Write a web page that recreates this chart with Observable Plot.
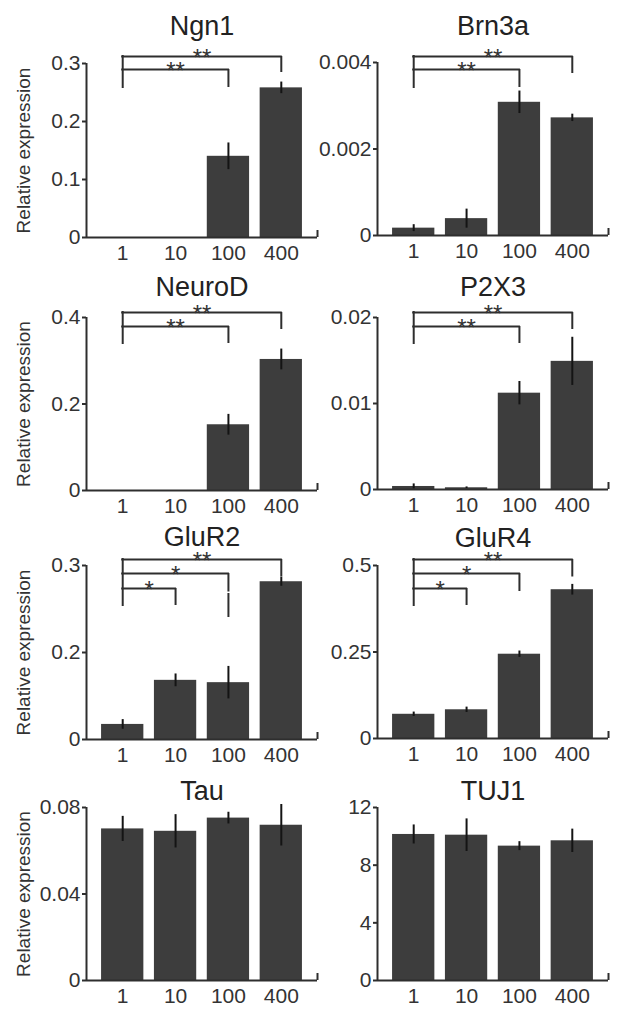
<!DOCTYPE html>
<html><head><meta charset="utf-8">
<script src="https://cdn.jsdelivr.net/npm/d3@7"></script>
<script src="https://cdn.jsdelivr.net/npm/@observablehq/plot@0.6"></script>
<style>
html,body{margin:0;padding:0;background:#fff;}
#wrap{position:relative;width:624px;height:1016px;overflow:hidden;background:#fff;}
#wrap svg{position:absolute;left:0;top:0;overflow:visible;}
</style></head><body><div id="wrap"></div>
<script>
// ---------- data ----------
const doses = ["1", "10", "100", "400"];
const genes = ["Ngn1", "Brn3a", "NeuroD", "P2X3", "GluR2", "GluR4", "Tau", "TUJ1"];

const ngn1Mean = [0, 0, 0.140, 0.258];
const ngn1Err  = [0, 0, 0.023, 0.010];
const brn3aMean = [0.00017, 0.00039, 0.00308, 0.00272];
const brn3aErr  = [0.00008, 0.00022, 0.00026, 0.000085];
const neurodMean = [0, 0, 0.152, 0.303];
const neurodErr  = [0, 0, 0.024, 0.024];
const p2x3Mean = [0.00035, 0.0002, 0.0112, 0.0149];
const p2x3Err  = [0.0003, 0.0001, 0.00136, 0.0028];
const glur2Mean = [0.026, 0.102, 0.098, 0.272];
const glur2Err  = [0.0083, 0.011, 0.028, 0.0078];
const glur4Mean = [0.070, 0.083, 0.2436, 0.430];
const glur4Err  = [0.0064, 0.0077, 0.0092, 0.0154];
const tauMean = [0.0701, 0.0690, 0.0751, 0.0718];
const tauErr  = [0.0058, 0.0077, 0.0027, 0.0096];
const tuj1Mean = [10.13, 10.08, 9.32, 9.69];
const tuj1Err  = [0.66, 1.13, 0.31, 0.81];

const ngn1Ticks = [0, 0.1, 0.2, 0.3];      const ngn1TickLabels = ["0", "0.1", "0.2", "0.3"];
const brn3aTicks = [0, 0.002, 0.004];     const brn3aTickLabels = ["0", "0.002", "0.004"];
const neurodTicks = [0, 0.2, 0.4];        const neurodTickLabels = ["0", "0.2", "0.4"];
const p2x3Ticks = [0, 0.01, 0.02];        const p2x3TickLabels = ["0", "0.01", "0.02"];
const glur2Ticks = [0, 0.15, 0.3];        const glur2TickLabels = ["0", "0.2", "0.3"];
const glur4Ticks = [0, 0.25, 0.5];        const glur4TickLabels = ["0", "0.25", "0.5"];
const tauTicks = [0, 0.04, 0.08];         const tauTickLabels = ["0", "0.04", "0.08"];
const tuj1Ticks = [0, 4, 8, 12];          const tuj1TickLabels = ["0", "4", "8", "12"];

// significance comparisons: [from dose index, to dose index, stars]
const ngn1Sig = [[0, 2, "**"], [0, 3, "**"]];
const brn3aSig = [[0, 2, "**"], [0, 3, "**"]];
const neurodSig = [[0, 2, "**"], [0, 3, "**"]];
const p2x3Sig = [[0, 2, "**"], [0, 3, "**"]];
const glur2Sig = [[0, 1, "*"], [0, 2, "*"], [0, 3, "**"]];
const glur4Sig = [[0, 1, "*"], [0, 2, "*"], [0, 3, "**"]];
const tauSig = [];
const tuj1Sig = [];

// ---------- layout (pixels) ----------
const colX = [[86, 317], [377, 608]];
const panelY = [[63, 237], [62, 235], [317, 490], [317, 489], [565, 739], [565, 738], [807, 980], [807, 980]];
const titleBase = [34, 34, 295, 295, 545, 546, 799, 799];
// bracket levels / drop ends, px above the top of the y axis (negative = below)
const bracketLayout = [
  {lEnd: -24, br: [{level: -6, rEnd: -24}, {level: 7, rEnd: -9}]},
  {lEnd: -25, br: [{level: -7, rEnd: -25}, {level: 6, rEnd: -11}]},
  {lEnd: -26, br: [{level: -9, rEnd: -26}, {level: 5, rEnd: -12}]},
  {lEnd: -26, br: [{level: -9, rEnd: -26}, {level: 5, rEnd: -12}]},
  {lEnd: -40, br: [{level: -23, rEnd: -40}, {level: -8, rEnd: -26.5, stub: [-28, -52]}, {level: 6, rEnd: -11.5}]},
  {lEnd: -40, br: [{level: -23, rEnd: -40}, {level: -8, rEnd: -26}, {level: 6, rEnd: -11.5}]},
  {lEnd: 0, br: []},
  {lEnd: 0, br: []}
];
const XMIN = 0.315, XMAX = 4.685, HALF = 0.4;
const BAR = "#3d3d3d", TXT = "#333333", LINE = "#2e2e2e", ERR = "#141414";
const FONT = "'Liberation Sans', Arial, Helvetica, sans-serif";

const series = [
  [ngn1Mean, ngn1Err, ngn1Ticks, ngn1TickLabels, ngn1Sig],
  [brn3aMean, brn3aErr, brn3aTicks, brn3aTickLabels, brn3aSig],
  [neurodMean, neurodErr, neurodTicks, neurodTickLabels, neurodSig],
  [p2x3Mean, p2x3Err, p2x3Ticks, p2x3TickLabels, p2x3Sig],
  [glur2Mean, glur2Err, glur2Ticks, glur2TickLabels, glur2Sig],
  [glur4Mean, glur4Err, glur4Ticks, glur4TickLabels, glur4Sig],
  [tauMean, tauErr, tauTicks, tauTickLabels, tauSig],
  [tuj1Mean, tuj1Err, tuj1Ticks, tuj1TickLabels, tuj1Sig]
];

const wrap = document.getElementById("wrap");

series.forEach(([means, errs, ticks, tickLabels, sig], k) => {
  const [x0, x1] = colX[k % 2];
  const [yT, yB] = panelY[k];
  const H = yB - yT;
  const ymax = ticks[ticks.length - 1];
  const toY = off => ymax * (1 + off / H);
  const labelMap = new Map(ticks.map((t, i) => [t, tickLabels[i]]));
  const data = doses.map((d, i) => ({i: i + 1, mean: means[i], err: errs[i]}));
  const lay = bracketLayout[k];
  const brk = sig.map(([a, b, s], j) => ({a: a + 1, b: b + 1, s, ...lay.br[j]}));
  const stubs = brk.filter(d => d.stub);

  const marks = [
    Plot.rectY(data, {x1: d => d.i - HALF, x2: d => d.i + HALF, y: "mean", fill: BAR}),
    Plot.ruleX(data.filter(d => d.err > 0), {x: "i", y1: d => d.mean - d.err, y2: d => d.mean + d.err, stroke: ERR, strokeWidth: 2}),
    Plot.ruleX([XMIN], {y1: 0, y2: ymax, stroke: LINE, strokeWidth: 2}),
    Plot.ruleY([0], {x1: XMIN, x2: XMAX, stroke: LINE, strokeWidth: 2}),
    Plot.ruleX([XMAX], {y1: 0, y2: ymax * 7 / H, stroke: LINE, strokeWidth: 2}),
    Plot.axisY({ticks, tickFormat: d => labelMap.get(d), tickSize: 4, tickPadding: 2, fontSize: 21, label: null, stroke: LINE, strokeWidth: 2}),
    Plot.axisX({ticks: [1, 2, 3, 4], tickFormat: d => doses[d - 1], tickSize: 0, tickPadding: 8, fontSize: 21, label: null}),
    Plot.text([genes[k]], {frameAnchor: "top", textAnchor: "middle", dy: titleBase[k] - yT, lineAnchor: "bottom", fontSize: 27, fill: "#222"})
  ];
  if (k % 2 === 0) {
    marks.push(Plot.text(["Relative expression"], {frameAnchor: "left", textAnchor: "middle", lineAnchor: "middle", dx: 23 - x0, rotate: -90, fontSize: 19, fill: TXT}));
  }
  if (brk.length) {
    const top = d3.max(brk, d => d.level);
    marks.push(
      Plot.ruleX([1], {y1: toY(top), y2: toY(lay.lEnd), stroke: LINE, strokeWidth: 2, strokeLinecap: "square"}),
      Plot.ruleY(brk, {y: d => toY(d.level), x1: "a", x2: "b", stroke: LINE, strokeWidth: 2, strokeLinecap: "square"}),
      Plot.ruleX(brk, {x: "b", y1: d => toY(d.level), y2: d => toY(d.rEnd), stroke: LINE, strokeWidth: 2}),
      Plot.ruleX(stubs, {x: "b", y1: d => toY(d.stub[0]), y2: d => toY(d.stub[1]), stroke: LINE, strokeWidth: 2}),
      Plot.text(brk, {x: d => (d.a + d.b) / 2, y: d => toY(d.level), text: "s", lineAnchor: "bottom", dy: 9, fontSize: 24, fill: TXT})
    );
  }

  const svg = Plot.plot({
    width: 624,
    height: 1016,
    marginLeft: x0,
    marginRight: 624 - x1,
    marginTop: yT,
    marginBottom: 1016 - yB,
    x: {type: "linear", domain: [XMIN, XMAX]},
    y: {type: "linear", domain: [0, ymax]},
    style: {background: "transparent", color: TXT, fontFamily: FONT, overflow: "visible"},
    marks
  });
  wrap.appendChild(svg);
});
</script>
</body></html>
